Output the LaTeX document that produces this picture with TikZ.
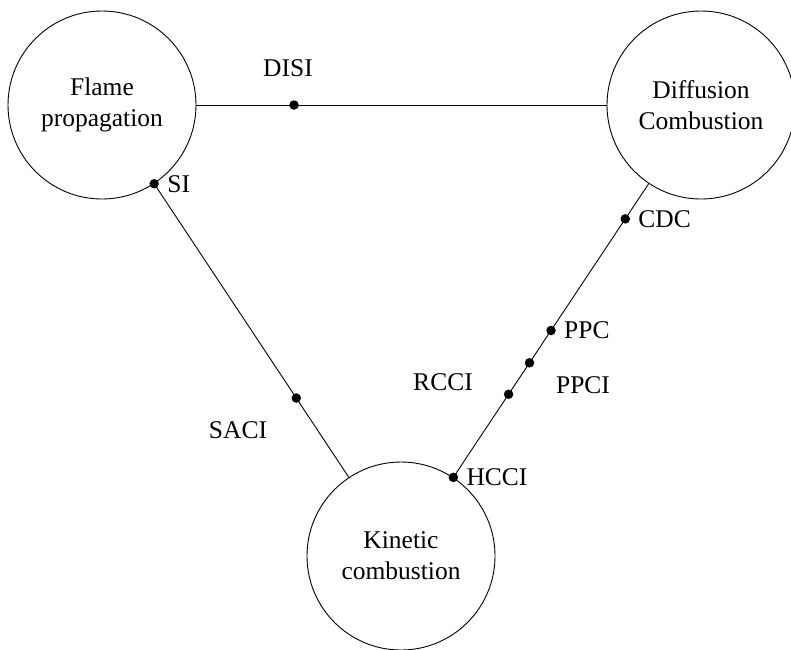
\documentclass[tikz,border=0pt]{standalone}
\usepackage{fontspec}
\setmainfont{Liberation Serif}
\begin{document}
\begin{tikzpicture}[x=1pt,y=-1pt,
  regime/.style={circle,draw,line width=0.9pt,minimum size=188pt,inner sep=0pt,align=center,font=\fontsize{25.5}{31}\selectfont},
  link/.style={line width=0.9pt},
  dot/.style={circle,fill,inner sep=0pt,minimum size=9.5pt},
  lbl/.style={font=\fontsize{25.5}{30}\selectfont,inner sep=0pt}]
\useasboundingbox (0,0) rectangle (791,649);
\node[regime] (fp) at (102,105) {Flame\\propagation};
\node[regime] (dc) at (701,105) {Diffusion\\Combustion};
\node[regime] (kc) at (401,556) {Kinetic\\combustion};
\draw[link] (fp) -- node[dot,pos=0.238] (disi) {} (dc);
\draw[link] (fp) -- node[dot,pos=0] (si) {} node[dot,pos=0.73] (saci) {} (kc);
\draw[link] (dc) -- node[dot,pos=0.12] (cdc) {} node[dot,pos=0.5] (ppc) {}
  node[dot,pos=0.61] (ppci) {} node[dot,pos=0.717] (rcci) {} node[dot,pos=1] (hcci) {} (kc);
\node[lbl,anchor=west] (siL) at ([xshift=13pt]si.center) {SI};
\node[lbl,anchor=west] (cdcL) at ([xshift=13pt]cdc.center) {CDC};
\node[lbl,anchor=west] (ppcL) at ([xshift=13pt]ppc.center) {PPC};
\node[lbl,anchor=west] (hcciL) at ([xshift=13pt]hcci.center) {HCCI};
\node[lbl] (disiL) at (288,68) {DISI};
\node[lbl] (saciL) at (238,430) {SACI};
\node[lbl] (rcciL) at (443,382) {RCCI};
\node[lbl] (ppciL) at (583,385) {PPCI};
\end{tikzpicture}
\end{document}
